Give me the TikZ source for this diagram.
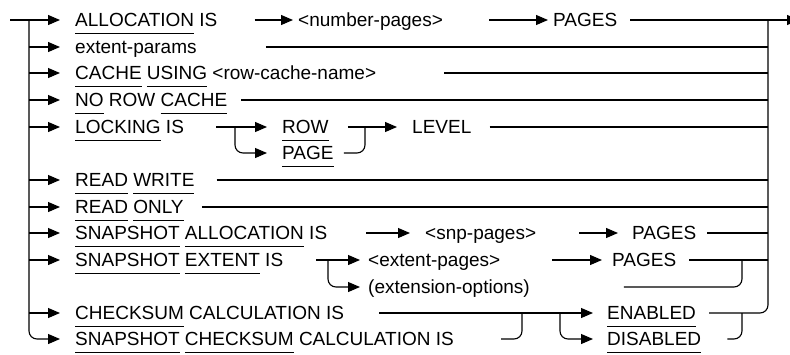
\documentclass[tikz,border=0pt]{standalone}
\usepackage{fontspec}
\setmainfont{Liberation Sans}
\usetikzlibrary{arrows.meta}

\newsavebox{\kwbox}
\newcommand{\kw}[1]{\sbox{\kwbox}{#1}\rlap{\rule[-6.5pt]{\wd\kwbox}{0.8pt}}\usebox{\kwbox}}

\tikzset{
	lbl/.style={anchor=west, inner sep=0pt, text height=13.7pt, text depth=0pt, font=\fontsize{19}{22}\selectfont},
	rail/.style={line width=1.1pt},
	arr/.style={-{Triangle[length=12pt,width=10pt]}}
}

\begin{document}
\begin{tikzpicture}[x=1pt,y=-1pt]
	\useasboundingbox (0,0) rectangle (790,354);
	% texts
	\node[lbl] (alloc) at (75,20) {\kw{ALLOCATION} IS};
	\node[lbl] (numpages) at (298,20) {<number-pages>};
	\node[lbl] (pages1) at (553,20) {PAGES};
	\node[lbl] (ext) at (75,47) {extent-params};
	\node[lbl] (cache) at (75,73) {\kw{CACHE} \kw{USING} <row-cache-name>};
	\node[lbl] (norow) at (75,100) {\kw{NO} ROW \kw{CACHE}};
	\node[lbl] (lock) at (75,127) {\kw{LOCKING} IS};
	\node[lbl] (row) at (282,127) {\kw{ROW}};
	\node[lbl] (page) at (282,153) {\kw{PAGE}};
	\node[lbl] (level) at (412,127) {LEVEL};
	\node[lbl] (rw) at (75,180) {\kw{READ} \kw{WRITE}};
	\node[lbl] (ro) at (75,207) {\kw{READ} \kw{ONLY}};
	\node[lbl] (snapalloc) at (75,233) {\kw{SNAPSHOT} \kw{ALLOCATION} IS};
	\node[lbl] (snppages) at (425,233) {<snp-pages>};
	\node[lbl] (pages2) at (632,233) {PAGES};
	\node[lbl] (snapext) at (75,260) {\kw{SNAPSHOT} \kw{EXTENT} IS};
	\node[lbl] (extpages) at (368,260) {<extent-pages>};
	\node[lbl] (extopts) at (368,287) {(extension-options)};
	\node[lbl] (pages3) at (612,260) {PAGES};
	\node[lbl] (cksum) at (75,313) {\kw{CHECKSUM} CALCULATION IS};
	\node[lbl] (snapck) at (75,339) {\kw{SNAPSHOT} \kw{CHECKSUM} CALCULATION IS};
	\node[lbl] (enabled) at (607,313) {\kw{ENABLED}};
	\node[lbl] (disabled) at (607,339) {\kw{DISABLED}};
	% spines and junctions
	\coordinate (in) at (10,20);
	\coordinate (out) at (799,20);
	\coordinate (lspine) at (29,20);
	\coordinate (rspine) at (768,20);
	\coordinate (locksplit) at (235,127);
	\coordinate (lockjoin) at (365,127);
	\coordinate (extsplit) at (328,260);
	\coordinate (extjoin) at (742,260);
	\coordinate (ckjoin) at (522,313);
	\coordinate (cksplit) at (560,313);
	\coordinate (enjoin) at (742,313);
	% left side
	\draw[rail,arr] (in) -- ([xshift=-15pt]alloc.west);
	\draw[rail,arr,rounded corners=8pt] (lspine) |- ([xshift=-15pt]snapck.west);
	\foreach \n in {ext,cache,norow,lock,rw,ro,snapalloc,snapext,cksum}
		\draw[rail,arr] (lspine |- \n.west) -- ([xshift=-15pt]\n.west);
	% right side
	\draw[rail,arr] ([xshift=13pt]pages1.east) -- (out);
	\draw[rail,rounded corners=8pt] (rspine) |- ([xshift=13pt]enabled.east);
	\foreach \n/\g in {ext/69,cache/68,norow/14,level/18,rw/22,ro/18,pages2/11,pages3/13}
		\draw[rail] ([xshift=\g pt]\n.east) -- (\n.east -| rspine);
	% allocation
	\draw[rail,arr] ([xshift=37pt]alloc.east) -- ([xshift=-5pt]numpages.west);
	\draw[rail,arr] ([xshift=46pt]numpages.east) -- ([xshift=-5pt]pages1.west);
	% locking
	\draw[rail,arr] ([xshift=32pt]lock.east) -- ([xshift=-15pt]row.west);
	\draw[rail,arr,rounded corners=8pt] (locksplit) |- ([xshift=-15pt]page.west);
	\draw[rail,arr] ([xshift=19pt]row.east) -- ([xshift=-15pt]level.west);
	\draw[rail,rounded corners=8pt] ([xshift=10pt]page.east) -| (lockjoin);
	% snapshot allocation
	\draw[rail,arr] ([xshift=39pt]snapalloc.east) -- ([xshift=-15pt]snppages.west);
	\draw[rail,arr] ([xshift=43pt]snppages.east) -- ([xshift=-14pt]pages2.west);
	% snapshot extent
	\draw[rail,arr] ([xshift=33pt]snapext.east) -- ([xshift=-8pt]extpages.west);
	\draw[rail,arr,rounded corners=8pt] (extsplit) |- ([xshift=-8pt]extopts.west);
	\draw[rail,arr] ([xshift=52pt]extpages.east) -- ([xshift=-10pt]pages3.west);
	\draw[rail,rounded corners=8pt] ([xshift=94pt]extopts.east) -| (extjoin);
	% checksum
	\draw[rail,arr] ([xshift=35pt]cksum.east) -- ([xshift=-14pt]enabled.west);
	\draw[rail,rounded corners=8pt] ([xshift=47pt]snapck.east) -| (ckjoin);
	\draw[rail,arr,rounded corners=8pt] (cksplit) |- ([xshift=-14pt]disabled.west);
	\draw[rail,rounded corners=8pt] ([xshift=26pt]disabled.east) -| (enjoin);
\end{tikzpicture}
\end{document}
